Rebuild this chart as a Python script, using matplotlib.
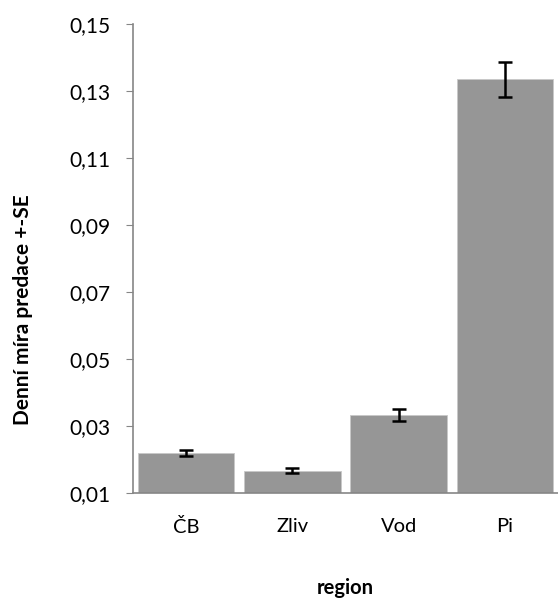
import numpy as np
import matplotlib
matplotlib.use("Agg")
import matplotlib.pyplot as plt

# data
regions = ["ČB", "Zliv", "Vod", "Pi"]
predation = [0.0219, 0.0167, 0.0333, 0.1335]
se = [0.0009, 0.0008, 0.0019, 0.0052]
yticks = [0.01, 0.03, 0.05, 0.07, 0.09, 0.11, 0.13, 0.15]

plt.rcParams['font.family'] = ['Lato', 'DejaVu Sans']

fig = plt.figure(figsize=(5.58, 6.01), dpi=100)
ax = fig.add_axes([133/558, 108/601, 425/558, 469/601])

x = np.arange(len(regions))
ax.bar(x, predation, width=0.91, color='#969696', edgecolor='#c8c8c8', linewidth=0.6,
       zorder=2)
ax.errorbar(x, predation, yerr=se, fmt='none', ecolor='black', elinewidth=1.8,
            capsize=5, capthick=1.8, zorder=3)

ax.set_xlim(-0.5, len(regions) - 0.5)
ax.set_ylim(0.01, 0.15)
ax.set_yticks(yticks)
ax.set_yticklabels([("%.2f" % v).replace(".", ",") for v in yticks], fontsize=15)
ax.set_xticks(x)
ax.set_xticklabels(regions, fontsize=14.5)

for s in ['top', 'right']:
    ax.spines[s].set_visible(False)
for s in ['left', 'bottom']:
    ax.spines[s].set_color('#868686')
    ax.spines[s].set_linewidth(1.2)
ax.tick_params(axis='y', direction='out', length=5, color='#868686', pad=11)
ax.tick_params(axis='x', length=0, pad=18)

ax.set_ylabel("Denní míra predace +-SE", fontsize=15, fontweight='bold')
ax.yaxis.set_label_coords(-0.235, 0.39)
ax.set_xlabel("region", fontsize=14.5, fontweight='bold', labelpad=30)

fig.savefig("out.png", dpi=100)
